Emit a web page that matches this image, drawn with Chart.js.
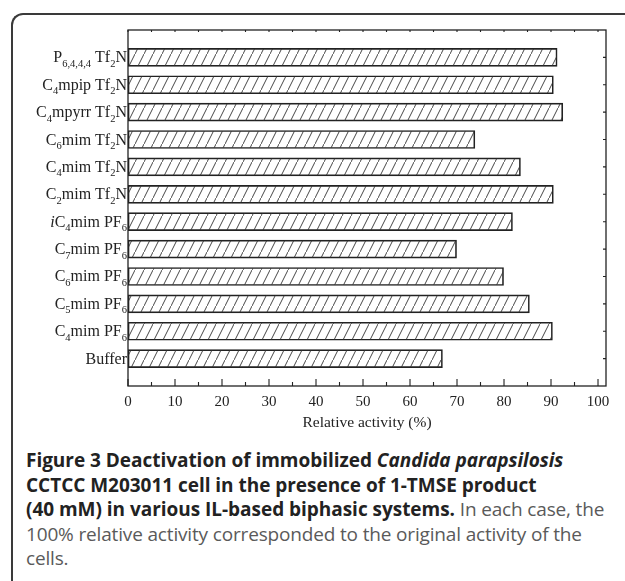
<!DOCTYPE html>
<html>
<head>
<meta charset="utf-8">
<script src="https://cdn.jsdelivr.net/npm/chart.js@4.4.0/dist/chart.umd.min.js"></script>
<style>
html, body { margin:0; padding:0; width:625px; height:581px; overflow:hidden; background:#fff; }
#marco { position:absolute; left:11px; top:13px; width:700px; height:700px; box-sizing:border-box;
  border-top:2px solid #3a3a3a; border-left:2px solid #3a3a3a; border-top-left-radius:12px; }
#grafica { position:absolute; left:0; top:0; }
#leyenda { position:absolute; left:26px; top:448px; white-space:nowrap; font-family:'Open Sans', sans-serif;
  font-size:19px; line-height:24.5px; color:#5a5a5a; letter-spacing:-0.16px; }
#leyenda b { color:#222; letter-spacing:-0.03px; }
</style>
</head>
<body>
<div id="marco"></div>
<canvas id="grafica" width="625" height="440"></canvas>
<div id="leyenda">
<b>Figure 3 Deactivation of immobilized <i>Candida parapsilosis</i></b><br>
<b>CCTCC M203011 cell in the presence of 1-TMSE product</b><br>
<b>(40 mM) in various IL-based biphasic systems.</b> In each case, the<br>
100% relative activity corresponded to the original activity of the<br>
cells.
</div>
<script>
// etiquetas de arriba hacia abajo; _{..} = subindice, *..* = cursiva
var categorias = [
    "P_{6,4,4,4} Tf_{2}N", "C_{4}mpip Tf_{2}N", "C_{4}mpyrr Tf_{2}N", "C_{6}mim Tf_{2}N",
    "C_{4}mim Tf_{2}N", "C_{2}mim Tf_{2}N", "*i*C_{4}mim PF_{6}", "C_{7}mim PF_{6}",
    "C_{6}mim PF_{6}", "C_{5}mim PF_{6}", "C_{4}mim PF_{6}", "Buffer"
];
var actividad = [91.3, 90.5, 92.5, 73.8, 83.5, 90.5, 81.8, 69.9, 79.9, 85.4, 90.3, 66.9];
var ticksX = [0, 10, 20, 30, 40, 50, 60, 70, 80, 90, 100];

var serif = "'Liberation Serif', 'Times New Roman', serif";

function rayado(){
    var c = document.createElement("canvas");
    c.width = 9; c.height = 18;
    var g = c.getContext("2d");
    g.strokeStyle = "#333";
    g.lineWidth = 0.9;
    g.beginPath();
    g.moveTo(-0.5, 19);
    g.lineTo(9.5, -1);
    g.stroke();
    return document.getElementById("grafica").getContext("2d").createPattern(c, "repeat");
}

function partes(txt){
    var re = /_\{([^}]*)\}|\*([^*]*)\*|([^_*]+)/g, m, out = [];
    while ((m = re.exec(txt)) !== null) {
        if (m[1] !== undefined) out.push({t:m[1], tipo:"sub"});
        else if (m[2] !== undefined) out.push({t:m[2], tipo:"it"});
        else out.push({t:m[3], tipo:"n"});
    }
    return out;
}

function fuente(tipo){
    if (tipo === "sub") return "10.5px " + serif;
    if (tipo === "it") return "italic 16px " + serif;
    return "16px " + serif;
}

var ejes = {
    id: "ejes",
    afterDatasetsDraw: function(chart){
        var ctx = chart.ctx, a = chart.chartArea;
        var sx = chart.scales.x, sy = chart.scales.y;
        ctx.save();
        ctx.strokeStyle = "#222";
        ctx.lineWidth = 1.3;
        ctx.strokeRect(a.left, a.top, a.right - a.left, a.bottom - a.top);
        ctx.lineWidth = 1.1;
        ctx.beginPath();
        for (var i = 0; i < ticksX.length; i++) {
            var px = sx.getPixelForValue(ticksX[i]);
            ctx.moveTo(px, a.bottom); ctx.lineTo(px, a.bottom - 7);
            ctx.moveTo(px, a.top); ctx.lineTo(px, a.top + 2);
            if (i < ticksX.length - 1) {
                var pm = sx.getPixelForValue((ticksX[i] + ticksX[i + 1]) / 2);
                ctx.moveTo(pm, a.bottom); ctx.lineTo(pm, a.bottom - 4);
                ctx.moveTo(pm, a.top); ctx.lineTo(pm, a.top + 2);
            }
        }
        for (var j = 0; j < categorias.length; j++) {
            var py = sy.getPixelForValue(j + 1);
            ctx.moveTo(a.right, py); ctx.lineTo(a.right - 3, py);
        }
        ctx.stroke();

        // etiquetas con subindices
        ctx.fillStyle = "#222";
        ctx.textBaseline = "alphabetic";
        ctx.textAlign = "left";
        for (var k = 0; k < categorias.length; k++) {
            var ps = partes(categorias[k]);
            var ancho = 0;
            ps.forEach(function(p){ ctx.font = fuente(p.tipo); ancho += ctx.measureText(p.t).width; });
            var x = a.left - 1 - ancho;
            var base = sy.getPixelForValue(k + 1) + 5;
            ps.forEach(function(p){
                ctx.font = fuente(p.tipo);
                ctx.fillText(p.t, x, p.tipo === "sub" ? base + 4.5 : base);
                x += ctx.measureText(p.t).width;
            });
        }
        ctx.restore();
    }
};

var canva = document.getElementById("grafica").getContext("2d");
var chartA = new Chart(canva, {
    type: "bar",
    data: {
        datasets: [{
            label: "Relative activity",
            data: actividad.map(function(v, i){ return {x: v, y: i + 1}; }),
            backgroundColor: rayado(),
            borderColor: "#222",
            borderWidth: 1,
            borderSkipped: false,
            barThickness: 18
        }]
    },
    options: {
        indexAxis: "y",
        responsive: false,
        animation: false,
        layout: { padding: { left: 128, right: 19, top: 30, bottom: 0 } },
        plugins: { legend: { display: false }, tooltip: { enabled: false } },
        scales: {
            y: { type: "linear", min: 0, max: 13, reverse: true, offset: false, display: false },
            x: {
                type: "linear", min: 0, max: 101.7,
                afterBuildTicks: function(s){ s.ticks = ticksX.map(function(v){ return {value: v}; }); },
                afterFit: function(s){ s.height = 54; },
                grid: { display: false, drawTicks: false },
                border: { display: false },
                ticks: { font: { family: serif, size: 15 }, color: "#222", padding: 7, maxRotation: 0 },
                title: { display: true, text: "Relative activity (%)", font: { family: serif, size: 15.5 },
                    color: "#222", padding: { top: 0, bottom: 8 } }
            }
        }
    },
    plugins: [ejes]
});
</script>
</body>
</html>
